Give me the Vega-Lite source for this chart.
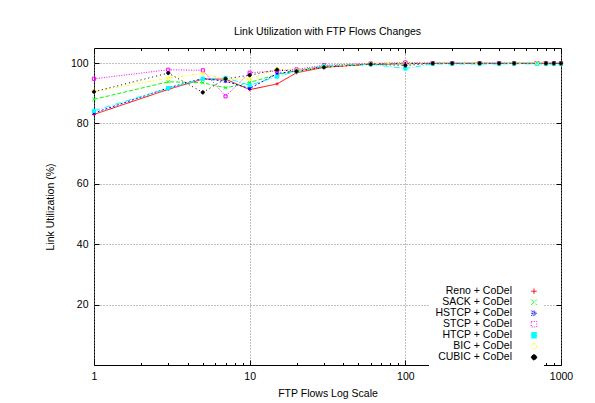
{
  "$schema": "https://vega.github.io/schema/vega-lite/v6.json",
  "width": 467,
  "height": 317,
  "autosize": {"type": "none"},
  "padding": {"left": 94, "top": 48, "right": 34, "bottom": 38},
  "background": "white",
  "title": {"text": "Link Utilization with FTP Flows Changes", "fontSize": 10.5, "fontWeight": "normal", "font": "Liberation Sans", "color": "black", "offset": 10, "anchor": "middle"},
  "config": {
    "font": "Liberation Sans",
    "view": {"stroke": "black", "strokeWidth": 1},
    "axis": {"labelFont": "Liberation Sans", "titleFont": "Liberation Sans", "labelFontSize": 10.5, "titleFontSize": 10.5, "titleFontWeight": "normal", "labelColor": "black", "titleColor": "black", "tickColor": "black", "domain": false, "labelFlush": false, "labelOverlap": false},
    "legend": {"labelFont": "Liberation Sans", "labelFontSize": 10.5, "labelColor": "black", "labelLimit": 300, "title": null, "orient": "none", "legendX": 335, "legendY": 233, "padding": 5, "fillColor": "white", "rowPadding": -2, "symbolSize": 30, "symbolStrokeWidth": 1}
  },
  "data": {"values": [
    {"series": "Reno + CoDel", "flows": 1, "util": 83.0},
    {"series": "Reno + CoDel", "flows": 3, "util": 91.3},
    {"series": "Reno + CoDel", "flows": 5, "util": 94.7},
    {"series": "Reno + CoDel", "flows": 7, "util": 94.7},
    {"series": "Reno + CoDel", "flows": 10, "util": 91.2},
    {"series": "Reno + CoDel", "flows": 15, "util": 93.1},
    {"series": "Reno + CoDel", "flows": 20, "util": 96.8},
    {"series": "Reno + CoDel", "flows": 30, "util": 98.6},
    {"series": "Reno + CoDel", "flows": 60, "util": 99.7},
    {"series": "Reno + CoDel", "flows": 100, "util": 99.8},
    {"series": "Reno + CoDel", "flows": 150, "util": 99.9},
    {"series": "Reno + CoDel", "flows": 200, "util": 99.9},
    {"series": "Reno + CoDel", "flows": 300, "util": 99.9},
    {"series": "Reno + CoDel", "flows": 400, "util": 99.9},
    {"series": "Reno + CoDel", "flows": 500, "util": 99.9},
    {"series": "Reno + CoDel", "flows": 700, "util": 99.9},
    {"series": "Reno + CoDel", "flows": 800, "util": 99.9},
    {"series": "Reno + CoDel", "flows": 900, "util": 99.9},
    {"series": "Reno + CoDel", "flows": 1000, "util": 99.9},
    {"series": "SACK + CoDel", "flows": 1, "util": 88.0},
    {"series": "SACK + CoDel", "flows": 3, "util": 93.8},
    {"series": "SACK + CoDel", "flows": 5, "util": 93.5},
    {"series": "SACK + CoDel", "flows": 7, "util": 91.8},
    {"series": "SACK + CoDel", "flows": 10, "util": 93.6},
    {"series": "SACK + CoDel", "flows": 15, "util": 96.2},
    {"series": "SACK + CoDel", "flows": 20, "util": 97.4},
    {"series": "SACK + CoDel", "flows": 30, "util": 98.9},
    {"series": "SACK + CoDel", "flows": 60, "util": 99.7},
    {"series": "SACK + CoDel", "flows": 100, "util": 99.8},
    {"series": "SACK + CoDel", "flows": 150, "util": 99.9},
    {"series": "SACK + CoDel", "flows": 200, "util": 99.9},
    {"series": "SACK + CoDel", "flows": 300, "util": 99.9},
    {"series": "SACK + CoDel", "flows": 400, "util": 99.9},
    {"series": "SACK + CoDel", "flows": 500, "util": 99.9},
    {"series": "SACK + CoDel", "flows": 700, "util": 99.9},
    {"series": "SACK + CoDel", "flows": 800, "util": 99.9},
    {"series": "SACK + CoDel", "flows": 900, "util": 99.9},
    {"series": "SACK + CoDel", "flows": 1000, "util": 99.9},
    {"series": "HSTCP + CoDel", "flows": 1, "util": 83.5},
    {"series": "HSTCP + CoDel", "flows": 3, "util": 91.8},
    {"series": "HSTCP + CoDel", "flows": 5, "util": 94.9},
    {"series": "HSTCP + CoDel", "flows": 7, "util": 94.0},
    {"series": "HSTCP + CoDel", "flows": 10, "util": 91.6},
    {"series": "HSTCP + CoDel", "flows": 15, "util": 96.5},
    {"series": "HSTCP + CoDel", "flows": 20, "util": 97.5},
    {"series": "HSTCP + CoDel", "flows": 30, "util": 98.9},
    {"series": "HSTCP + CoDel", "flows": 60, "util": 99.7},
    {"series": "HSTCP + CoDel", "flows": 100, "util": 99.9},
    {"series": "HSTCP + CoDel", "flows": 150, "util": 99.9},
    {"series": "HSTCP + CoDel", "flows": 200, "util": 99.9},
    {"series": "HSTCP + CoDel", "flows": 300, "util": 99.9},
    {"series": "HSTCP + CoDel", "flows": 400, "util": 99.9},
    {"series": "HSTCP + CoDel", "flows": 500, "util": 99.9},
    {"series": "HSTCP + CoDel", "flows": 700, "util": 99.9},
    {"series": "HSTCP + CoDel", "flows": 800, "util": 99.9},
    {"series": "HSTCP + CoDel", "flows": 900, "util": 99.9},
    {"series": "HSTCP + CoDel", "flows": 1000, "util": 99.9},
    {"series": "STCP + CoDel", "flows": 1, "util": 94.8},
    {"series": "STCP + CoDel", "flows": 3, "util": 97.8},
    {"series": "STCP + CoDel", "flows": 5, "util": 97.6},
    {"series": "STCP + CoDel", "flows": 7, "util": 89.0},
    {"series": "STCP + CoDel", "flows": 10, "util": 96.8},
    {"series": "STCP + CoDel", "flows": 15, "util": 97.4},
    {"series": "STCP + CoDel", "flows": 20, "util": 97.9},
    {"series": "STCP + CoDel", "flows": 30, "util": 99.3},
    {"series": "STCP + CoDel", "flows": 60, "util": 99.9},
    {"series": "STCP + CoDel", "flows": 100, "util": 100.2},
    {"series": "STCP + CoDel", "flows": 150, "util": 100.0},
    {"series": "STCP + CoDel", "flows": 200, "util": 100.0},
    {"series": "STCP + CoDel", "flows": 300, "util": 100.0},
    {"series": "STCP + CoDel", "flows": 400, "util": 100.0},
    {"series": "STCP + CoDel", "flows": 500, "util": 100.0},
    {"series": "STCP + CoDel", "flows": 700, "util": 100.0},
    {"series": "STCP + CoDel", "flows": 800, "util": 100.0},
    {"series": "STCP + CoDel", "flows": 900, "util": 100.0},
    {"series": "STCP + CoDel", "flows": 1000, "util": 100.0},
    {"series": "HTCP + CoDel", "flows": 1, "util": 84.2},
    {"series": "HTCP + CoDel", "flows": 3, "util": 91.7},
    {"series": "HTCP + CoDel", "flows": 5, "util": 94.8},
    {"series": "HTCP + CoDel", "flows": 7, "util": 95.1},
    {"series": "HTCP + CoDel", "flows": 10, "util": 92.7},
    {"series": "HTCP + CoDel", "flows": 15, "util": 95.5},
    {"series": "HTCP + CoDel", "flows": 20, "util": 97.3},
    {"series": "HTCP + CoDel", "flows": 30, "util": 99.0},
    {"series": "HTCP + CoDel", "flows": 60, "util": 99.6},
    {"series": "HTCP + CoDel", "flows": 100, "util": 98.2},
    {"series": "HTCP + CoDel", "flows": 150, "util": 99.7},
    {"series": "HTCP + CoDel", "flows": 200, "util": 99.7},
    {"series": "HTCP + CoDel", "flows": 300, "util": 99.7},
    {"series": "HTCP + CoDel", "flows": 400, "util": 99.7},
    {"series": "HTCP + CoDel", "flows": 500, "util": 99.8},
    {"series": "HTCP + CoDel", "flows": 700, "util": 99.7},
    {"series": "HTCP + CoDel", "flows": 800, "util": 99.7},
    {"series": "HTCP + CoDel", "flows": 900, "util": 99.7},
    {"series": "HTCP + CoDel", "flows": 1000, "util": 99.7},
    {"series": "BIC + CoDel", "flows": 1, "util": 90.6},
    {"series": "BIC + CoDel", "flows": 3, "util": 95.0},
    {"series": "BIC + CoDel", "flows": 5, "util": 96.6},
    {"series": "BIC + CoDel", "flows": 7, "util": 94.7},
    {"series": "BIC + CoDel", "flows": 10, "util": 94.7},
    {"series": "BIC + CoDel", "flows": 15, "util": 98.0},
    {"series": "BIC + CoDel", "flows": 20, "util": 97.6},
    {"series": "BIC + CoDel", "flows": 30, "util": 98.8},
    {"series": "BIC + CoDel", "flows": 60, "util": 99.8},
    {"series": "BIC + CoDel", "flows": 100, "util": 100.0},
    {"series": "BIC + CoDel", "flows": 150, "util": 99.9},
    {"series": "BIC + CoDel", "flows": 200, "util": 99.9},
    {"series": "BIC + CoDel", "flows": 300, "util": 99.9},
    {"series": "BIC + CoDel", "flows": 400, "util": 99.9},
    {"series": "BIC + CoDel", "flows": 500, "util": 99.9},
    {"series": "BIC + CoDel", "flows": 700, "util": 100.0},
    {"series": "BIC + CoDel", "flows": 800, "util": 99.9},
    {"series": "BIC + CoDel", "flows": 900, "util": 99.9},
    {"series": "BIC + CoDel", "flows": 1000, "util": 99.9},
    {"series": "CUBIC + CoDel", "flows": 1, "util": 90.5},
    {"series": "CUBIC + CoDel", "flows": 3, "util": 96.7},
    {"series": "CUBIC + CoDel", "flows": 5, "util": 90.3},
    {"series": "CUBIC + CoDel", "flows": 7, "util": 94.8},
    {"series": "CUBIC + CoDel", "flows": 10, "util": 96.0},
    {"series": "CUBIC + CoDel", "flows": 15, "util": 97.8},
    {"series": "CUBIC + CoDel", "flows": 20, "util": 97.3},
    {"series": "CUBIC + CoDel", "flows": 30, "util": 98.6},
    {"series": "CUBIC + CoDel", "flows": 60, "util": 99.6},
    {"series": "CUBIC + CoDel", "flows": 100, "util": 99.2},
    {"series": "CUBIC + CoDel", "flows": 150, "util": 99.9},
    {"series": "CUBIC + CoDel", "flows": 200, "util": 99.9},
    {"series": "CUBIC + CoDel", "flows": 300, "util": 99.9},
    {"series": "CUBIC + CoDel", "flows": 400, "util": 99.9},
    {"series": "CUBIC + CoDel", "flows": 500, "util": 99.9},
    {"series": "CUBIC + CoDel", "flows": 800, "util": 99.9},
    {"series": "CUBIC + CoDel", "flows": 900, "util": 99.9},
    {"series": "CUBIC + CoDel", "flows": 1000, "util": 99.9}
  ]},
  "layer": [
    {
      "mark": {"type": "line", "strokeWidth": 1, "clip": true},
      "encoding": {
        "x": {"field": "flows", "type": "quantitative", "title": "FTP Flows Log Scale",
          "scale": {"type": "log", "domain": [1, 1000], "nice": false},
          "axis": {"orient": "bottom", "values": [1, 10, 100, 1000], "format": "d", "tickSize": -5, "labelPadding": 11, "grid": true, "gridColor": "#808080", "gridDash": [1, 2], "titlePadding": 7}},
        "y": {"field": "util", "type": "quantitative", "title": "Link Utilization (%)",
          "scale": {"domain": [0, 105], "nice": false, "zero": false},
          "axis": {"orient": "left", "values": [20, 40, 60, 80, 100], "tickSize": -5, "labelPadding": 11, "grid": true, "gridColor": "#808080", "gridDash": [1, 2], "titlePadding": 15}},
        "color": {"field": "series", "type": "nominal",
          "scale": {"domain": ["Reno + CoDel", "SACK + CoDel", "HSTCP + CoDel", "STCP + CoDel", "HTCP + CoDel", "BIC + CoDel", "CUBIC + CoDel"],
            "range": ["#ff0000", "#00ff00", "#0000ff", "#ff00ff", "#00ffff", "#ffff00", "#000000"]},
          "legend": {"encode": {
              "symbols": {"update": {"x": {"value": 100}}},
              "labels": {"update": {"x": {"value": 78}, "align": {"value": "right"}}}
            }}},
        "strokeDash": {"field": "series", "type": "nominal",
          "scale": {"domain": ["Reno + CoDel", "SACK + CoDel", "HSTCP + CoDel", "STCP + CoDel", "HTCP + CoDel", "BIC + CoDel", "CUBIC + CoDel"],
            "range": [[1, 0], [4, 2], [2, 2], [1, 1.5], [6, 2, 1, 2], [3, 2, 1, 2, 1, 2], [1, 3]]}}
      }
    },
    {
      "mark": {"type": "point", "filled": false, "size": 10, "strokeWidth": 1, "opacity": 1},
      "encoding": {
        "x": {"field": "flows", "type": "quantitative",
          "axis": {"orient": "bottom", "values": [2, 3, 4, 5, 6, 7, 8, 9, 20, 30, 40, 50, 60, 70, 80, 90, 200, 300, 400, 500, 600, 700, 800, 900], "labels": false, "tickSize": -2.5, "grid": false, "title": null}},
        "y": {"field": "util", "type": "quantitative",
          "axis": {"orient": "right", "values": [20, 40, 60, 80, 100], "labels": false, "tickSize": -5, "grid": false, "title": null}},
        "color": {"field": "series", "type": "nominal"},
        "shape": {"field": "series", "type": "nominal",
          "scale": {"domain": ["Reno + CoDel", "SACK + CoDel", "HSTCP + CoDel", "STCP + CoDel", "HTCP + CoDel", "BIC + CoDel", "CUBIC + CoDel"],
            "range": ["M-1,0H1M0,-1V1", "M-1,-1L1,1M-1,1L1,-1", "M-1,0H1M0,-1V1M-1,-1L1,1M-1,1L1,-1", "M-1,-1H1V1H-1Z", "M-1,-1H1V1H-1Z", "M1,0A1,1,0,1,1,-1,0A1,1,0,1,1,1,0Z", "M1,0A1,1,0,1,1,-1,0A1,1,0,1,1,1,0Z"]}},
        "fill": {"field": "series", "type": "nominal", "legend": null,
          "scale": {"domain": ["Reno + CoDel", "SACK + CoDel", "HSTCP + CoDel", "STCP + CoDel", "HTCP + CoDel", "BIC + CoDel", "CUBIC + CoDel"],
            "range": ["transparent", "transparent", "transparent", "transparent", "#00ffff", "transparent", "#000000"]}}
      }
    },
    {
      "mark": {"type": "point", "opacity": 0},
      "encoding": {
        "x": {"field": "flows", "type": "quantitative",
          "axis": {"orient": "top", "values": [1, 10, 100, 1000], "labels": false, "tickSize": -5, "grid": false, "title": null}},
        "y": {"field": "util", "type": "quantitative", "axis": null}
      }
    },
    {
      "mark": {"type": "point", "opacity": 0},
      "encoding": {
        "x": {"field": "flows", "type": "quantitative",
          "axis": {"orient": "top", "values": [2, 3, 4, 5, 6, 7, 8, 9, 20, 30, 40, 50, 60, 70, 80, 90, 200, 300, 400, 500, 600, 700, 800, 900], "labels": false, "tickSize": -2.5, "grid": false, "title": null}},
        "y": {"field": "util", "type": "quantitative", "axis": null}
      }
    }
  ],
  "resolve": {"axis": {"x": "independent", "y": "independent"}}
}
